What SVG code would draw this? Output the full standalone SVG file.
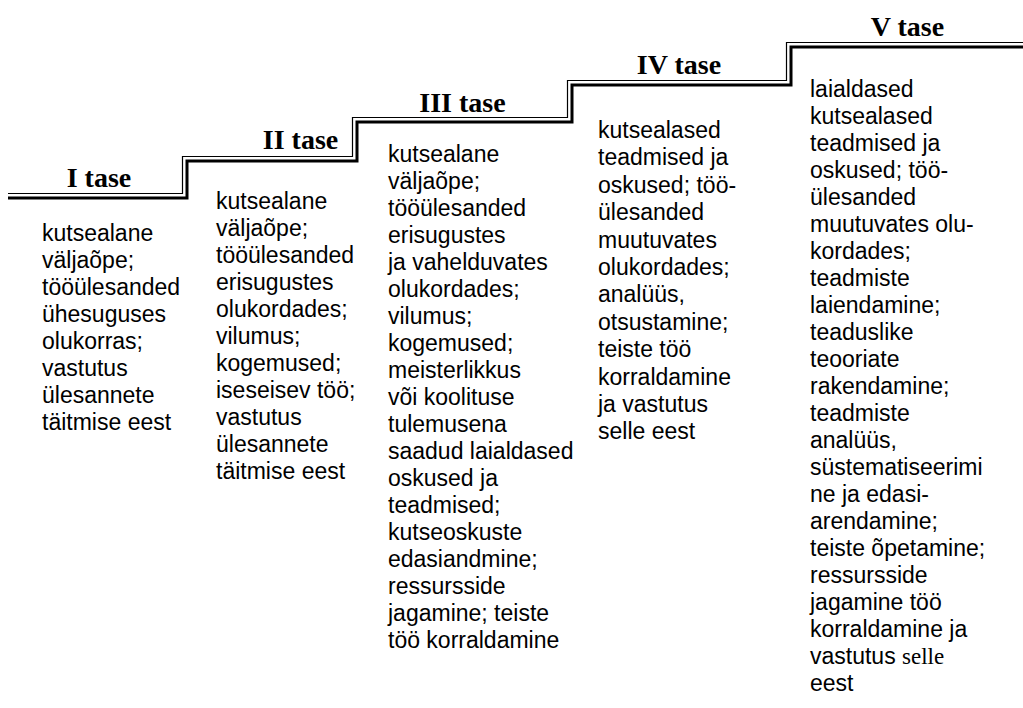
<svg xmlns="http://www.w3.org/2000/svg" width="1023" height="708" viewBox="0 0 1023 708">
<style>
.title{font-family:"Liberation Serif","Times New Roman",serif;font-weight:bold;font-size:28px;fill:#000;text-anchor:middle}
.body{font-family:"Liberation Sans",Arial,Helvetica,sans-serif;font-size:23px;fill:#000}
.serif{font-family:"Liberation Serif","Times New Roman",serif}
.thick{fill:none;stroke:#000;stroke-width:3}
.thin{fill:none;stroke:#000;stroke-width:1.2}
</style>
<rect width="1023" height="708" fill="#fff"/>
<g id="connectors">
<path class="thick" d="M8,198 H187 V161 H357 V122 H572 V85 H791 V47 H1023"/>
<path class="thin" d="M8,193.5 H182.5 V156.5 H352.5 V117.5 H567.5 V80.5 H786.5 V42.5 H1023"/>
</g>
<g id="level-1">
<text class="title" x="99" y="187">I tase</text>
<text class="body" y="241"><tspan x="42">kutsealane</tspan><tspan x="42" dy="27">väljaõpe;</tspan><tspan x="42" dy="27">tööülesanded</tspan><tspan x="42" dy="27">ühesuguses</tspan><tspan x="42" dy="27">olukorras;</tspan><tspan x="42" dy="27">vastutus</tspan><tspan x="42" dy="27">ülesannete</tspan><tspan x="42" dy="27">täitmise eest</tspan></text>
</g>
<g id="level-2">
<text class="title" x="300.5" y="149">II tase</text>
<text class="body" y="209"><tspan x="216">kutsealane</tspan><tspan x="216" dy="27">väljaõpe;</tspan><tspan x="216" dy="27">tööülesanded</tspan><tspan x="216" dy="27">erisugustes</tspan><tspan x="216" dy="27">olukordades;</tspan><tspan x="216" dy="27">vilumus;</tspan><tspan x="216" dy="27">kogemused;</tspan><tspan x="216" dy="27">iseseisev töö;</tspan><tspan x="216" dy="27">vastutus</tspan><tspan x="216" dy="27">ülesannete</tspan><tspan x="216" dy="27">täitmise eest</tspan></text>
</g>
<g id="level-3">
<text class="title" x="462.5" y="112">III tase</text>
<text class="body" y="162"><tspan x="388">kutsealane</tspan><tspan x="388" dy="27">väljaõpe;</tspan><tspan x="388" dy="27">tööülesanded</tspan><tspan x="388" dy="27">erisugustes</tspan><tspan x="388" dy="27">ja vahelduvates</tspan><tspan x="388" dy="27">olukordades;</tspan><tspan x="388" dy="27">vilumus;</tspan><tspan x="388" dy="27">kogemused;</tspan><tspan x="388" dy="27">meisterlikkus</tspan><tspan x="388" dy="27">või koolituse</tspan><tspan x="388" dy="27">tulemusena</tspan><tspan x="388" dy="27">saadud laialdased</tspan><tspan x="388" dy="27">oskused ja</tspan><tspan x="388" dy="27">teadmised;</tspan><tspan x="388" dy="27">kutseoskuste</tspan><tspan x="388" dy="27">edasiandmine;</tspan><tspan x="388" dy="27">ressursside</tspan><tspan x="388" dy="27">jagamine; teiste</tspan><tspan x="388" dy="27">töö korraldamine</tspan></text>
</g>
<g id="level-4">
<text class="title" x="679" y="74">IV tase</text>
<text class="body" y="138"><tspan x="598">kutsealased</tspan><tspan x="598" dy="27.4">teadmised ja</tspan><tspan x="598" dy="27.4">oskused; töö-</tspan><tspan x="598" dy="27.4">ülesanded</tspan><tspan x="598" dy="27.4">muutuvates</tspan><tspan x="598" dy="27.4">olukordades;</tspan><tspan x="598" dy="27.4">analüüs,</tspan><tspan x="598" dy="27.4">otsustamine;</tspan><tspan x="598" dy="27.4">teiste töö</tspan><tspan x="598" dy="27.4">korraldamine</tspan><tspan x="598" dy="27.4">ja vastutus</tspan><tspan x="598" dy="27.4">selle eest</tspan></text>
</g>
<g id="level-5">
<text class="title" x="907.5" y="36">V tase</text>
<text class="body" y="97"><tspan x="810">laialdased</tspan><tspan x="810" dy="27">kutsealased</tspan><tspan x="810" dy="27">teadmised ja</tspan><tspan x="810" dy="27">oskused; töö-</tspan><tspan x="810" dy="27">ülesanded</tspan><tspan x="810" dy="27">muutuvates olu-</tspan><tspan x="810" dy="27">kordades;</tspan><tspan x="810" dy="27">teadmiste</tspan><tspan x="810" dy="27">laiendamine;</tspan><tspan x="810" dy="27">teaduslike</tspan><tspan x="810" dy="27">teooriate</tspan><tspan x="810" dy="27">rakendamine;</tspan><tspan x="810" dy="27">teadmiste</tspan><tspan x="810" dy="27">analüüs,</tspan><tspan x="810" dy="27">süstematiseerimi</tspan><tspan x="810" dy="27">ne ja edasi-</tspan><tspan x="810" dy="27">arendamine;</tspan><tspan x="810" dy="27">teiste õpetamine;</tspan><tspan x="810" dy="27">ressursside</tspan><tspan x="810" dy="27">jagamine töö</tspan><tspan x="810" dy="27">korraldamine ja</tspan><tspan x="810" dy="27">vastutus <tspan class="serif">selle</tspan></tspan><tspan x="810" dy="27">eest</tspan></text>
</g>
</svg>
